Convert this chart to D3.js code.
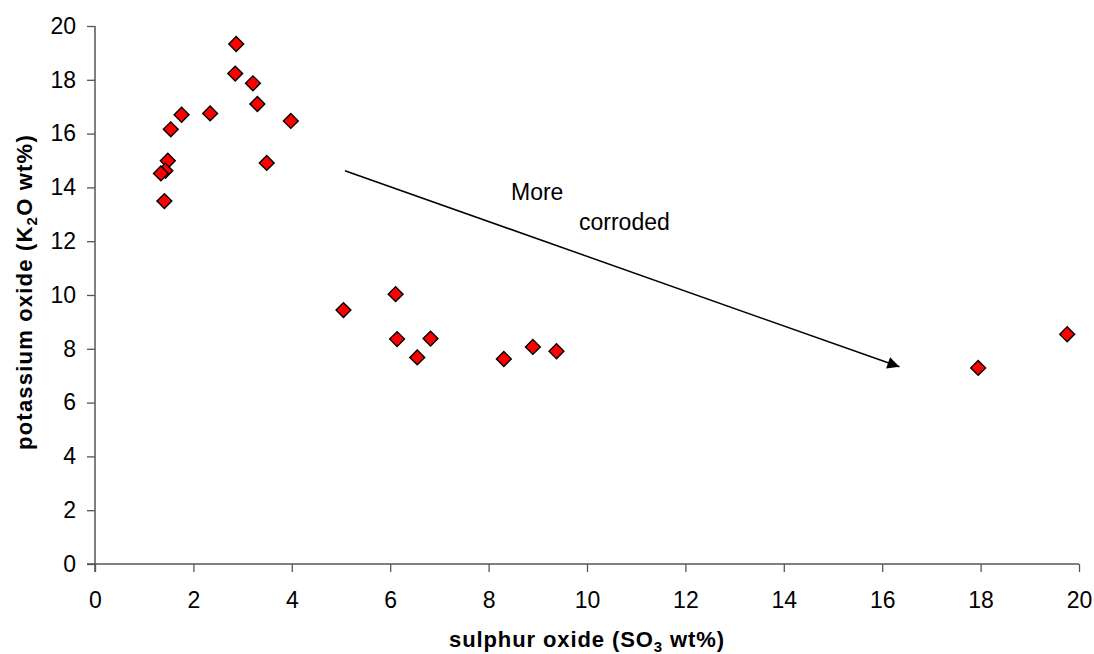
<!DOCTYPE html>
<html>
<head>
<meta charset="utf-8">
<script src="https://cdn.jsdelivr.net/npm/d3@7"></script>
<style>
  body { margin: 0; background: #fff; }
  text { font-family: "Liberation Sans", Arial, sans-serif; }
</style>
</head>
<body>
<div id="chart"></div>
<script>
// SO3 wt% vs K2O wt%
const so3 = [2.87, 2.85, 3.21, 3.30, 3.98, 3.49, 2.34, 1.76, 1.54, 1.48, 1.43, 1.34, 1.41,
             5.05, 6.11, 6.14, 6.55, 6.82, 8.31, 8.90, 9.38, 17.95, 19.76];
const k2o = [19.33, 18.23, 17.87, 17.10, 16.47, 14.91, 16.75, 16.70, 16.16, 14.99, 14.62, 14.52, 13.49,
             9.44, 10.03, 8.36, 7.68, 8.38, 7.62, 8.07, 7.91, 7.29, 8.54];
const xTicks = [0, 2, 4, 6, 8, 10, 12, 14, 16, 18, 20];
const yTicks = [0, 2, 4, 6, 8, 10, 12, 14, 16, 18, 20];
// arrow in data units: start, end
const arrowX = [5.08, 16.35];
const arrowY = [14.62, 7.33];

const config = { width: 1094, height: 654, left: 95, right: 15, top: 26, bottom: 90 };

const svg = d3.select("#chart").append("svg")
    .attr("width", config.width)
    .attr("height", config.height);

const x = d3.scaleLinear().domain([0, 20]).range([config.left, config.width - config.right]);
const y = d3.scaleLinear().domain([0, 20]).range([config.height - config.bottom, config.top]);

const axisColor = "#555";

// x axis
const gx = svg.append("g")
    .attr("transform", `translate(0,${y(0)})`)
    .call(d3.axisBottom(x).tickValues(xTicks).tickSize(8).tickPadding(20).tickFormat(d3.format("d")));
gx.select(".domain").attr("stroke", axisColor).attr("stroke-width", 1.5).attr("d", `M${x(0) - 8},0H${x(20)}`);
gx.selectAll(".tick line").attr("stroke", axisColor).attr("stroke-width", 1.3);
gx.selectAll(".tick text").attr("font-size", 23).attr("fill", "#000")
    .attr("font-family", "Liberation Sans, Arial, sans-serif");

// y axis
const gy = svg.append("g")
    .attr("transform", `translate(${x(0)},0)`)
    .call(d3.axisLeft(y).tickValues(yTicks).tickSize(8).tickPadding(11).tickFormat(d3.format("d")));
gy.select(".domain").attr("stroke", axisColor).attr("stroke-width", 1.5).attr("d", `M0,${y(0) + 8}V${y(20)}`);
gy.selectAll(".tick line").attr("stroke", axisColor).attr("stroke-width", 1.3);
gy.selectAll(".tick text").attr("font-size", 23).attr("fill", "#000")
    .attr("font-family", "Liberation Sans, Arial, sans-serif");

// axis titles
const xTitle = svg.append("text")
    .attr("x", (x(0) + x(20)) / 2)
    .attr("y", 647)
    .attr("text-anchor", "middle")
    .attr("font-weight", "bold")
    .attr("font-size", 22)
    .attr("letter-spacing", 0.9);
xTitle.append("tspan").text("sulphur oxide (SO");
xTitle.append("tspan").attr("font-size", 15).attr("dy", 5).text("3");
xTitle.append("tspan").attr("dy", -5).text(" wt%)");

const yTitle = svg.append("text")
    .attr("transform", `translate(32,${(y(0) + y(20)) / 2 - 3}) rotate(-90)`)
    .attr("text-anchor", "middle")
    .attr("font-weight", "bold")
    .attr("font-size", 22)
    .attr("letter-spacing", 1.2);
yTitle.append("tspan").text("potassium oxide (K");
yTitle.append("tspan").attr("font-size", 15).attr("dy", 5).text("2");
yTitle.append("tspan").attr("dy", -5).text("O wt%)");

// arrow
svg.append("defs").append("marker")
    .attr("id", "arrowhead")
    .attr("viewBox", "0 0 10 10")
    .attr("refX", 10).attr("refY", 5)
    .attr("markerWidth", 16).attr("markerHeight", 12)
    .attr("markerUnits", "userSpaceOnUse")
    .attr("orient", "auto")
  .append("path")
    .attr("d", "M0,0L10,5L0,10Z")
    .attr("fill", "#000");

svg.append("line")
    .attr("x1", x(arrowX[0])).attr("y1", y(arrowY[0]))
    .attr("x2", x(arrowX[1])).attr("y2", y(arrowY[1]))
    .attr("stroke", "#000")
    .attr("stroke-width", 1.5)
    .attr("marker-end", "url(#arrowhead)");

// annotation
svg.append("text").attr("x", 511).attr("y", 200).attr("font-size", 23).text("More");
svg.append("text").attr("x", 579).attr("y", 230).attr("font-size", 23).text("corroded");

// points
const pts = so3.map((v, i) => ({ sx: v, ky: k2o[i] }));
svg.append("g")
    .selectAll("path")
    .data(pts)
    .enter().append("path")
        .attr("d", d3.symbol().type(d3.symbolSquare).size(110))
        .attr("transform", d => `translate(${x(d.sx)},${y(d.ky)}) rotate(45)`)
        .attr("fill", "#ff0000")
        .attr("stroke", "#000")
        .attr("stroke-width", 1.4);
</script>
</body>
</html>
